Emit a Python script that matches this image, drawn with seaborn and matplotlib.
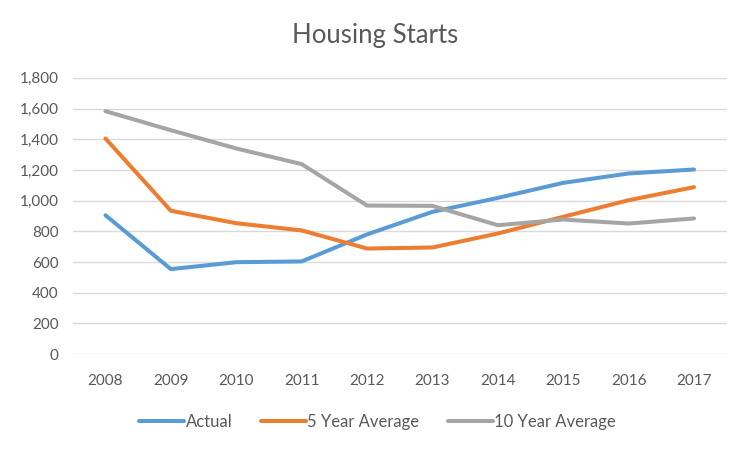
import matplotlib
matplotlib.use("Agg")
import matplotlib.pyplot as plt
import matplotlib.ticker as mticker
import seaborn as sns
import pandas as pd

# values
years = [2008, 2009, 2010, 2011, 2012, 2013, 2014, 2015, 2016, 2017]
actual = [905, 554, 599, 604, 780, 927, 1018, 1116, 1177, 1203]
avg_5yr = [1405, 934, 853, 806, 688, 695, 786, 895, 1003, 1088]
avg_10yr = [1583, 1459, 1340, 1238, 968, 966, 840, 877, 851, 884]
series_names = ["Actual", "5 Year Average", "10 Year Average"]
colors = ["#5B9BD5", "#ED7D31", "#A5A5A5"]

df = pd.DataFrame({"Year": [str(y) for y in years] * 3,
                   "Starts": actual + avg_5yr + avg_10yr,
                   "Series": [n for n in series_names for _ in years]})

sns.set_theme(style="white")
plt.rcParams['font.family'] = ['Lato', 'DejaVu Sans']
text_col = "#595959"

fig = plt.figure(figsize=(7.5, 4.5), dpi=100)
ax = fig.add_axes([0.097, 0.213, 0.872, 0.614])

sns.lineplot(data=df, x="Year", y="Starts", hue="Series", hue_order=series_names,
             palette=colors, linewidth=2.9, sort=False, ax=ax)

ax.set_ylim(0, 1800)
ax.set_xlim(-0.5, len(years) - 0.5)
ax.yaxis.set_major_locator(mticker.MultipleLocator(200))
ax.yaxis.set_major_formatter(mticker.FuncFormatter(lambda v, p: f"{int(v):,}"))
ax.grid(axis="y", color="#D9D9D9", linewidth=1)
ax.set_axisbelow(True)
for s in ax.spines.values():
    s.set_visible(False)
ax.tick_params(axis="both", length=0, labelsize=11, colors=text_col)
ax.tick_params(axis="x", pad=14)
ax.tick_params(axis="y", pad=10)
ax.set_xlabel("")
ax.set_ylabel("")

fig.text(0.5, 0.922, "Housing Starts", ha="center", va="center", fontsize=18.5, color=text_col)

handles, labels = ax.get_legend_handles_labels()
ax.legend(handles, labels, loc="center", bbox_to_anchor=(0.466, -0.245), ncol=3,
          frameon=False, fontsize=12, handlelength=2.7, handletextpad=0.1,
          columnspacing=1.7, labelcolor=text_col)

fig.savefig("out.png", dpi=100)
